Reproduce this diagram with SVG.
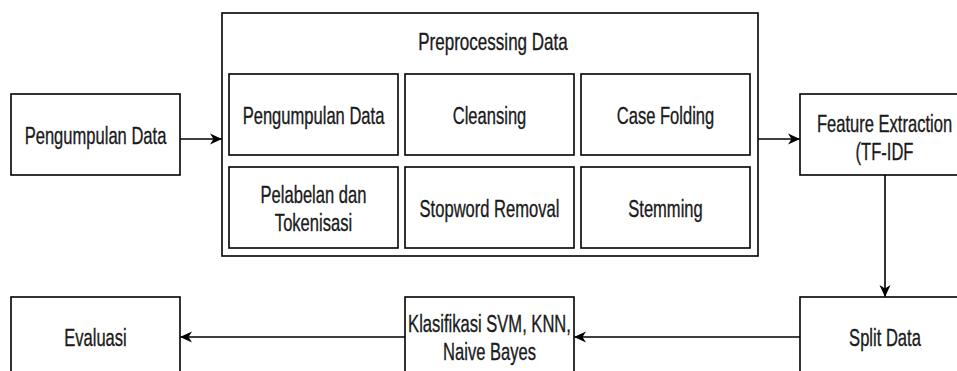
<svg xmlns="http://www.w3.org/2000/svg" width="957" height="371" viewBox="0 0 957 371">
  <style>
    .box { fill: #ffffff; stroke: #000000; stroke-width: 1.6; }
    .lbl { font-family: "Liberation Sans", Arial, sans-serif; font-size: 24px; fill: #1a1a1a; stroke: #1a1a1a; stroke-width: 0.35; text-anchor: middle; }
    .edge { fill: none; stroke: #000000; stroke-width: 1.6; }
  </style>
  <defs>
    <marker id="arrow" viewBox="0 0 12 12" refX="11.5" refY="6" markerWidth="12" markerHeight="12" markerUnits="userSpaceOnUse" orient="auto">
      <path d="M0,0.5 L12,6 L0,11.5 L3.5,6 Z" fill="#000000"/>
    </marker>
  </defs>
  <rect width="957" height="371" fill="#ffffff"/>

  <g id="pengumpulan">
    <rect class="box" x="11" y="94" width="169" height="81"/>
    <text class="lbl" transform="translate(95.5,143.5) scale(0.69,1)">Pengumpulan Data</text>
  </g>

  <g id="preprocessing">
    <rect class="box" x="222" y="13" width="536" height="243"/>
    <text class="lbl" transform="translate(493,50) scale(0.71,1)">Preprocessing Data</text>
  </g>

  <g id="step-pengumpulan">
    <rect class="box" x="229" y="74" width="169" height="81"/>
    <text class="lbl" transform="translate(313.5,123.5) scale(0.69,1)">Pengumpulan Data</text>
  </g>
  <g id="step-cleansing">
    <rect class="box" x="405" y="74" width="169" height="81"/>
    <text class="lbl" transform="translate(489.5,123.5) scale(0.69,1)">Cleansing</text>
  </g>
  <g id="step-casefolding">
    <rect class="box" x="581" y="74" width="169" height="81"/>
    <text class="lbl" transform="translate(665.5,123.5) scale(0.69,1)">Case Folding</text>
  </g>
  <g id="step-pelabelan">
    <rect class="box" x="229" y="167" width="169" height="81"/>
    <text class="lbl" transform="translate(313.5,202.5) scale(0.69,1)">Pelabelan dan</text>
    <text class="lbl" transform="translate(313.5,230.5) scale(0.69,1)">Tokenisasi</text>
  </g>
  <g id="step-stopword">
    <rect class="box" x="405" y="167" width="169" height="81"/>
    <text class="lbl" transform="translate(489.5,216.5) scale(0.69,1)">Stopword Removal</text>
  </g>
  <g id="step-stemming">
    <rect class="box" x="581" y="167" width="169" height="81"/>
    <text class="lbl" transform="translate(665.5,216.5) scale(0.69,1)">Stemming</text>
  </g>

  <g id="feature-extraction">
    <rect class="box" x="800" y="94" width="170" height="81"/>
    <text class="lbl" transform="translate(884.5,131.5) scale(0.69,1)">Feature Extraction</text>
    <text class="lbl" transform="translate(884.5,159.5) scale(0.69,1)">(TF-IDF</text>
  </g>

  <g id="split-data">
    <rect class="box" x="800" y="297" width="170" height="81"/>
    <text class="lbl" transform="translate(885,345.5) scale(0.69,1)">Split Data</text>
  </g>

  <g id="klasifikasi">
    <rect class="box" x="405" y="297" width="169" height="81"/>
    <text class="lbl" transform="translate(489.5,331.5) scale(0.69,1)">Klasifikasi SVM, KNN,</text>
    <text class="lbl" transform="translate(489.5,359.5) scale(0.69,1)">Naive Bayes</text>
  </g>

  <g id="evaluasi">
    <rect class="box" x="11" y="297" width="169" height="81"/>
    <text class="lbl" transform="translate(95.5,346) scale(0.69,1)">Evaluasi</text>
  </g>

  <g id="connectors">
    <path class="edge" d="M180,139 L221.5,139" marker-end="url(#arrow)"/>
    <path class="edge" d="M758,139 L799.5,139" marker-end="url(#arrow)"/>
    <path class="edge" d="M885,175 L885,296.5" marker-end="url(#arrow)"/>
    <path class="edge" d="M800,337 L574.5,337" marker-end="url(#arrow)"/>
    <path class="edge" d="M405,337 L180.5,337" marker-end="url(#arrow)"/>
  </g>
</svg>
